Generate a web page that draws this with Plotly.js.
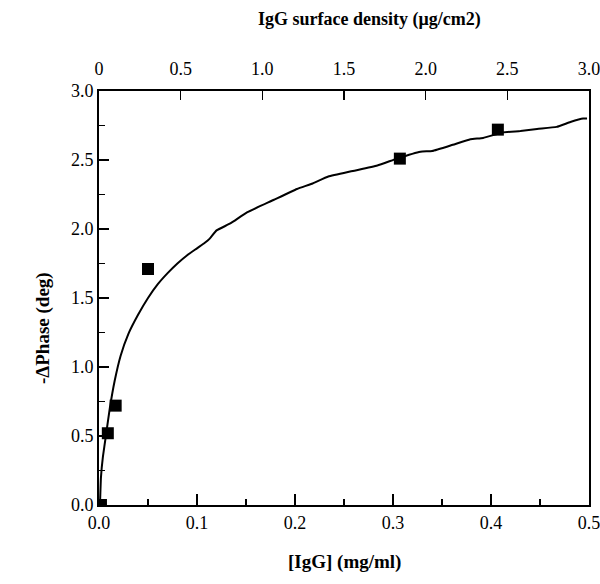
<!DOCTYPE html>
<html>
<head>
<meta charset="utf-8">
<script src="https://cdn.plot.ly/plotly-3.0.1.min.js"></script>
<style>html,body{margin:0;padding:0;background:#fff;}#chart{width:600px;height:584px;}</style>
</head>
<body>
<div id="chart"></div>
<script>
// Measured data points
const concX = [0.002, 0.009, 0.017, 0.050, 0.307, 0.407];
const phaseY = [0.00, 0.52, 0.72, 1.71, 2.51, 2.72];

// Fitted curve
const curveX = [0.001, 0.002, 0.004, 0.007, 0.011, 0.016, 0.022, 0.030, 0.040, 0.050, 0.060, 0.070, 0.080, 0.090, 0.100, 0.108, 0.113, 0.120, 0.134, 0.151, 0.178, 0.202, 0.218, 0.234, 0.259, 0.284, 0.304, 0.328, 0.340, 0.361, 0.379, 0.392, 0.412, 0.430, 0.447, 0.467, 0.481, 0.494, 0.498];
const curveY = [0.00, 0.20, 0.35, 0.50, 0.70, 0.90, 1.08, 1.24, 1.38, 1.50, 1.60, 1.68, 1.75, 1.81, 1.86, 1.90, 1.93, 1.99, 2.04, 2.12, 2.21, 2.29, 2.33, 2.38, 2.42, 2.46, 2.51, 2.56, 2.565, 2.61, 2.65, 2.66, 2.70, 2.71, 2.725, 2.74, 2.775, 2.80, 2.80];

// Tick labels
const bottomTicks = [0, 0.1, 0.2, 0.3, 0.4, 0.5];
const bottomLabels = ["0.0", "0.1", "0.2", "0.3", "0.4", "0.5"];
const topTicks = [0, 0.5, 1.0, 1.5, 2.0, 2.5, 3.0];
const topLabels = ["0", "0.5", "1.0", "1.5", "2.0", "2.5", "3.0"];
const leftTicks = [0, 0.5, 1.0, 1.5, 2.0, 2.5, 3.0];
const leftLabels = ["0.0", "0.5", "1.0", "1.5", "2.0", "2.5", "3.0"];

const xTitle = "[IgG] (mg/ml)";
const x2Title = "IgG surface density (μg/cm2)";
const yTitle = "-ΔPhase (deg)";

const serif = "Liberation Serif, Times New Roman, serif";

const traces = [
  {x: curveX, y: curveY, mode: "lines", line: {color: "#000", width: 2, shape: "spline", smoothing: 0.4}, hoverinfo: "skip", showlegend: false},
  {x: concX, y: phaseY, mode: "markers", marker: {symbol: "square", size: 12, color: "#000"}, showlegend: false},
  {x: [0], y: [0], xaxis: "x2", mode: "markers", marker: {opacity: 0}, showlegend: false, hoverinfo: "skip"}
];

const layout = {
  width: 600, height: 584,
  margin: {l: 99, r: 11, t: 91, b: 79},
  paper_bgcolor: "#fff", plot_bgcolor: "#fff",
  font: {family: serif, size: 18, color: "#000"},
  xaxis: {
    range: [0, 0.5], tickvals: bottomTicks, ticktext: bottomLabels,
    ticks: "inside", ticklen: 11, tickwidth: 1.5, tickcolor: "#000",
    minor: {tickvals: [0.05, 0.15, 0.25, 0.35, 0.45], ticks: "inside", ticklen: 6, tickwidth: 1.5, tickcolor: "#000"},
    showline: true, linewidth: 2, linecolor: "#000", showgrid: false, zeroline: false,
    tickfont: {family: serif, size: 18}, ticklabeloverflow: "allow"
  },
  xaxis2: {
    range: [0, 3], overlaying: "x", side: "top", anchor: "y",
    tickvals: topTicks, ticktext: topLabels,
    ticks: "inside", ticklen: 9, tickwidth: 1.5, tickcolor: "#000",
    showline: true, linewidth: 2, linecolor: "#000", showgrid: false, zeroline: false,
    tickfont: {family: serif, size: 18}, ticklabelstandoff: 7, ticklabeloverflow: "allow"
  },
  yaxis: {
    range: [0, 3], tickvals: leftTicks, ticktext: leftLabels,
    ticks: "inside", ticklen: 10, tickwidth: 1.5, tickcolor: "#000",
    minor: {tickvals: [0.25, 0.75, 1.25, 1.75, 2.25, 2.75], ticks: "inside", ticklen: 6, tickwidth: 1.5, tickcolor: "#000"},
    showline: true, linewidth: 2, linecolor: "#000", mirror: true, showgrid: false, zeroline: false,
    tickfont: {family: serif, size: 18}, ticklabeloverflow: "allow"
  },
  annotations: [
    {text: "<b>" + xTitle + "</b>", xref: "paper", yref: "paper", x: 0.5, y: -0.1377, xanchor: "center", yanchor: "middle", showarrow: false, font: {family: serif, size: 19}},
    {text: "<b>" + x2Title + "</b>", xref: "paper", yref: "paper", x: 0.553, y: 1.1715, xanchor: "center", yanchor: "middle", showarrow: false, font: {family: serif, size: 18}},
    {text: "<b>" + yTitle + "</b>", xref: "paper", yref: "paper", x: -0.1143, y: 0.4275, xanchor: "center", yanchor: "middle", textangle: -90, showarrow: false, font: {family: serif, size: 19}}
  ]
};

Plotly.newPlot("chart", traces, layout, {staticPlot: true});
</script>
</body>
</html>
